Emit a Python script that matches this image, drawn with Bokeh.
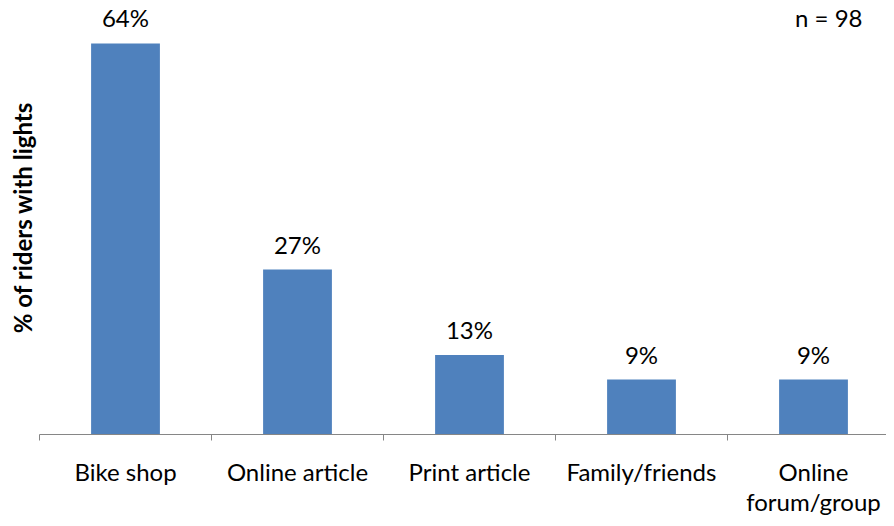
from bokeh.plotting import figure
from bokeh.models import ColumnDataSource, Range1d, FixedTicker, LabelSet, Label
from bokeh.core.properties import value
from bokeh.embed import file_html
from bokeh.resources import INLINE

categories = ["Bike shop", "Online article", "Print article", "Family/friends", "Online\nforum/group"]
values = [64, 27, 13, 9, 9]
value_labels = ["64%", "27%", "13%", "9%", "9%"]
n_text = "n = 98"
y_title = "% of riders with lights"

FONT = "Lato"
BLUE = "#4F81BD"
GRAY = "#868686"

cat_px = 172.0
fig_w = 886
fig_h = 518
border_left = 39
border_bottom = 83
frame_w = fig_w - border_left
frame_h = fig_h - border_bottom
px_per_pct = 6.125

centers = [i + 0.5 for i in range(len(categories))]
src = ColumnDataSource(dict(x=centers, top=values, lab=value_labels))

p = figure(width=fig_w, height=fig_h, output_backend="svg", toolbar_location=None,
           x_range=Range1d(0, frame_w / cat_px), y_range=Range1d(0, frame_h / px_per_pct),
           min_border_left=border_left, min_border_right=0, min_border_top=0,
           min_border_bottom=border_bottom)
p.outline_line_color = None
p.grid.visible = False
p.background_fill_color = "white"

p.vbar(x="x", top="top", width=0.4, source=src, fill_color=BLUE, line_color=None)

p.add_layout(LabelSet(x="x", y="top", text="lab", source=src, text_align="center",
                      text_baseline="alphabetic", y_offset=16, text_font=value(FONT),
                      text_font_size=value("24px"), text_color="black"))

ax = p.xaxis[0]
ax.ticker = FixedTicker(ticks=centers, minor_ticks=list(range(len(categories) + 1)))
ax.major_label_overrides = {c: lab for c, lab in zip(centers, categories)}
ax.axis_line_color = GRAY
ax.major_tick_line_color = None
ax.major_tick_out = 0
ax.major_tick_in = 0
ax.minor_tick_line_color = GRAY
ax.minor_tick_out = 6
ax.minor_tick_in = 0
ax.major_label_standoff = 16
ax.major_label_text_font = FONT
ax.major_label_text_font_size = "24px"
ax.major_label_text_line_height = 1.05
ax.major_label_text_color = "black"

ya = p.yaxis[0]
ya.ticker = FixedTicker(ticks=[])
ya.axis_line_color = None
ya.major_tick_line_color = None
ya.minor_tick_line_color = None
ya.major_tick_out = 0
ya.major_tick_in = 0
ya.major_label_standoff = 0
ya.axis_label = y_title
ya.axis_label_text_font = FONT
ya.axis_label_text_font_size = "24px"
ya.axis_label_text_font_style = "bold"
ya.axis_label_text_color = "black"
ya.axis_label_standoff = 3

p.add_layout(Label(x=(862 - border_left) / cat_px, y=(frame_h - 17) / px_per_pct, text=n_text,
                   text_align="right", text_baseline="alphabetic", text_font=FONT,
                   text_font_size="24px", text_color="black"))

open("out.html", "w").write(file_html(p, INLINE))
